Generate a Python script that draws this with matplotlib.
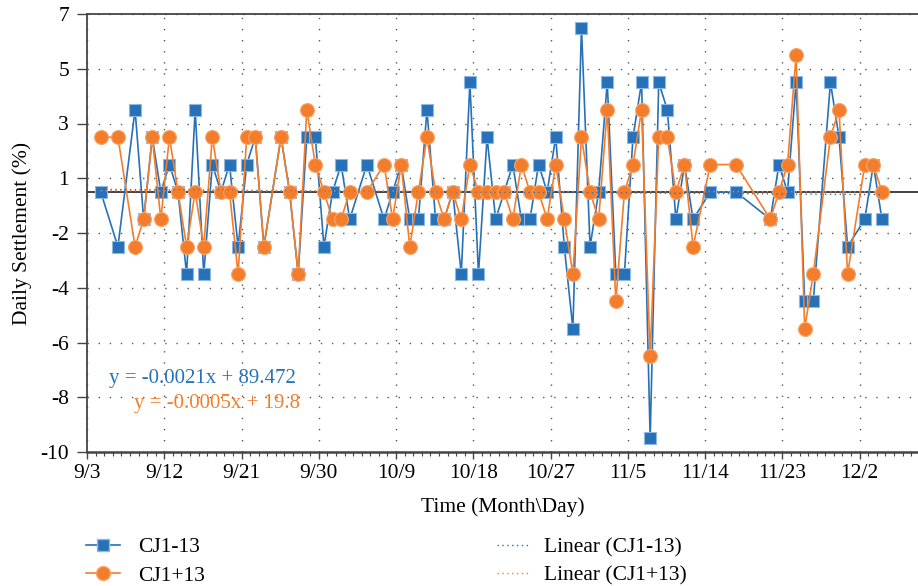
import datetime as dt
import numpy as np
import matplotlib
matplotlib.use("Agg")
import matplotlib.pyplot as plt
import matplotlib.dates as mdates
from matplotlib.ticker import FixedLocator, FuncFormatter
from matplotlib.lines import Line2D

plt.rcParams['font.family'] = ['Liberation Serif', 'DejaVu Serif']

YEAR = 2018
dates = ["9/5", "9/7", "9/9", "9/10", "9/11", "9/12", "9/13", "9/14", "9/15", "9/16",
         "9/17", "9/18", "9/19", "9/20", "9/21", "9/22", "9/23", "9/24", "9/26", "9/27",
         "9/28", "9/29", "9/30", "10/1", "10/2", "10/3", "10/4", "10/6", "10/8", "10/9",
         "10/10", "10/11", "10/12", "10/13", "10/14", "10/15", "10/16", "10/17", "10/18", "10/19",
         "10/20", "10/21", "10/22", "10/23", "10/24", "10/25", "10/26", "10/27", "10/28", "10/29",
         "10/30", "10/31", "11/1", "11/2", "11/3", "11/4", "11/5", "11/6", "11/7", "11/8",
         "11/9", "11/10", "11/11", "11/12", "11/13", "11/15", "11/18", "11/22", "11/23", "11/24",
         "11/25", "11/26", "11/27", "11/29", "11/30", "12/1", "12/3", "12/4", "12/5"]

cj1_minus_13 = [0, -2, 3, -1, 2, 0, 1, 0, -3, 3,
                -3, 1, 0, 1, -2, 1, 2, -2, 2, 0,
                -3, 2, 2, -2, 0, 1, -1, 1, -1, 0,
                1, -1, -1, 3, -1, -1, 0, -3, 4, -3,
                2, -1, 0, 1, -1, -1, 1, 0, 2, -2,
                -5, 6, -2, 0, 4, -3, -3, 2, 4, -9,
                4, 3, -1, 1, -1, 0, 0, -1, 1, 0,
                4, -4, -4, 4, 2, -2, -1, 1, -1]

cj1_plus_13 = [2, 2, -2, -1, 2, -1, 2, 0, -2, 0,
               -2, 2, 0, 0, -3, 2, 2, -2, 2, 0,
               -3, 3, 1, 0, -1, -1, 0, 0, 1, -1,
               1, -2, 0, 2, 0, -1, 0, -1, 1, 0,
               0, 0, 0, -1, 1, 0, 0, -1, 1, -1,
               -3, 2, 0, -1, 3, -4, 0, 1, 3, -6,
               2, 2, 0, 1, -2, 1, 1, -1, 0, 1,
               5, -5, -3, 2, 3, -3, 1, 1, 0]

series_names = ["CJ1-13", "CJ1+13"]
trend_names = ["Linear (CJ1-13)", "Linear (CJ1+13)"]
equations = ["y = -0.0021x + 89.472", "y = -0.0005x + 19.8"]

BLUE = "#2671B8"
BLUE_EDGE = "#8DB8E3"
ORANGE = "#F47D2C"
ORANGE_EDGE = "#F8A56A"
FS = 15.5

def to_num(s):
    m, d = s.split("/")
    return mdates.date2num(dt.datetime(YEAR, int(m), int(d)))

x = np.array([to_num(s) for s in dates])
y1 = np.array(cj1_minus_13, dtype=float)
y2 = np.array(cj1_plus_13, dtype=float)

fig = plt.figure(figsize=(9.18, 5.86), dpi=100)
ax = fig.add_axes([87 / 918, 1 - 452 / 586, 1 - 87 / 918, (452 - 14) / 586])

# Excel-style value axis: min -9.5, max 6.5, unit 2, labels rounded to integers
ax.set_ylim(-9.5, 6.5)
yt = np.arange(-9.5, 6.6, 2)
ax.yaxis.set_major_locator(FixedLocator(yt))
def yfmt(v, pos):
    r = int(np.sign(v) * np.floor(abs(v) + 0.5))
    return f"{r}"
ax.yaxis.set_major_formatter(FuncFormatter(yfmt))

# date axis starting at 9/3 + 0.4 day, major unit 9 days, labels truncated to the date
x0 = to_num("9/3") + 0.4
ax.set_xlim(x0, x0 + 96.8)
ax.xaxis.set_major_locator(FixedLocator(x0 + np.arange(0, 97, 9)))
ax.xaxis.set_minor_locator(FixedLocator(x0 + np.arange(0, 97, 1)))
def xfmt(v, pos):
    d = mdates.num2date(v)
    return f"{d.month}/{d.day}"
ax.xaxis.set_major_formatter(FuncFormatter(xfmt))

ax.grid(True, which='major', color='#555555', linestyle=(0, (1, 7)), linewidth=1.0, zorder=0)
ax.set_axisbelow(True)

for side in ['left', 'bottom', 'top']:
    ax.spines[side].set_color('#444444')
ax.spines['left'].set_linewidth(1.3)
ax.spines['bottom'].set_linewidth(1.8)
ax.spines['top'].set_linewidth(1.3)
ax.spines['right'].set_visible(False)

ax.tick_params(axis='y', which='major', direction='out', length=7, width=1.0,
               color='#444444', labelsize=FS, pad=6)
ax.tick_params(axis='x', which='major', direction='out', length=5, width=1.0,
               color='#444444', labelsize=FS, pad=4)
ax.tick_params(axis='x', which='minor', direction='out', length=3, width=0.8,
               color='#444444')

ax.axhline(0, color='#222222', linewidth=1.2, zorder=1)

ax.plot(x, y1, color=BLUE, linewidth=1.2, marker='s', markersize=9.3,
        markerfacecolor=BLUE, markeredgecolor=BLUE_EDGE, markeredgewidth=0.8, zorder=3)
ax.plot(x, y2, color=ORANGE, linewidth=1.2, marker='o', markersize=10,
        markerfacecolor=ORANGE, markeredgecolor=ORANGE_EDGE, markeredgewidth=0.8, zorder=4)

for yy, col in [(y1, BLUE), (y2, ORANGE)]:
    k, b = np.polyfit(x, yy, 1)
    xx = np.array([x.min(), x.max()])
    ax.plot(xx, k * xx + b, color=col, linestyle=(0, (1, 2.5)), linewidth=1.0, zorder=5)

ax.text(0.139, 0.168, equations[0], transform=ax.transAxes, color=BLUE,
        fontsize=15, ha='center', va='center')
ax.text(0.157, 0.111, equations[1], transform=ax.transAxes, color=ORANGE,
        fontsize=15, ha='center', va='center')

ax.set_ylabel("Daily Settlement (%)", fontsize=FS, labelpad=6)
ax.set_xlabel("Time (Month\\Day)", fontsize=FS, labelpad=10)

h1 = [Line2D([], [], color=BLUE, lw=1.2, marker='s', markersize=9.3,
             markerfacecolor=BLUE, markeredgecolor=BLUE_EDGE),
      Line2D([], [], color=ORANGE, lw=1.2, marker='o', markersize=10,
             markerfacecolor=ORANGE, markeredgecolor=ORANGE_EDGE)]
h2 = [Line2D([], [], color=BLUE, lw=1.0, linestyle=(0, (1, 2.5))),
      Line2D([], [], color=ORANGE, lw=1.0, linestyle=(0, (1, 2.5)))]

fig.legend(h1, series_names, loc='upper left', bbox_to_anchor=(86 / 918, 1 - 537 / 586),
           frameon=False, fontsize=FS, handlelength=1.6, handletextpad=0.8,
           labelspacing=0.4, borderpad=0, borderaxespad=0)
fig.legend(h2, trend_names, loc='upper left', bbox_to_anchor=(497 / 918, 1 - 537 / 586),
           frameon=False, fontsize=FS, handlelength=1.6, handletextpad=0.6,
           labelspacing=0.4, borderpad=0, borderaxespad=0)

fig.savefig("out.png", dpi=100)
